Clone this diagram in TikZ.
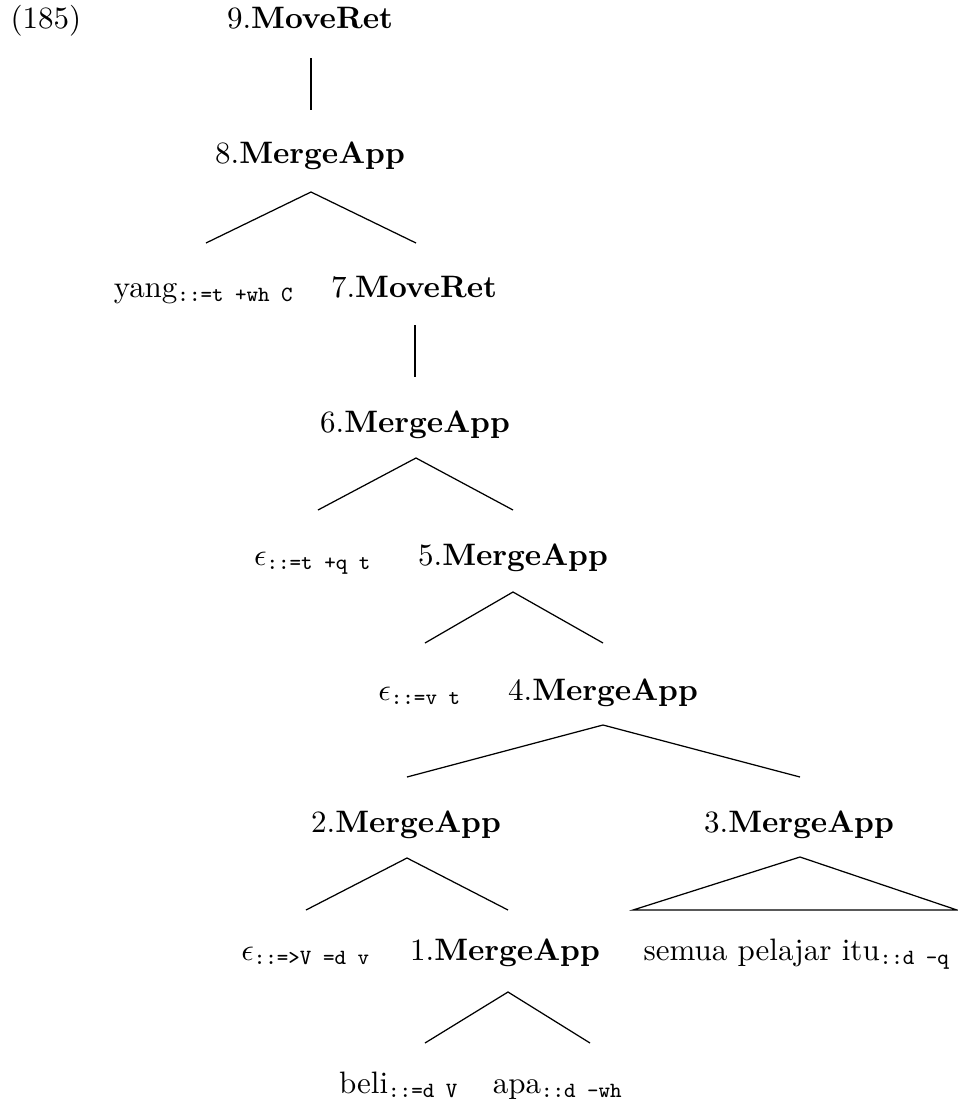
\documentclass[tikz,border=0pt]{standalone}
\usepackage{amsmath}
\usetikzlibrary{calc}
\newcommand{\ftr}[1]{$_{\texttt{#1}}$}
\begin{document}
\begin{tikzpicture}[
  x=0.3226pt, y=-0.3226pt,
  every node/.style={inner sep=0pt, anchor=base},
  edge/.style={draw, line width=0.4pt}
]
\useasboundingbox (0,0) rectangle (957,1109);
% labels, by level
\node[anchor=base west] (ex) at (10,28) {(185)};
\node (n9) at (310,28) {9.\textbf{MoveRet}};
\node (n8) at (310,163) {8.\textbf{MergeApp}};
\node (yang) at (204,297) {yang\ftr{::=t +wh C}};
\node (n7) at (414,297) {7.\textbf{MoveRet}};
\node (n6) at (415,432) {6.\textbf{MergeApp}};
\node (eps1) at (313,565) {$\epsilon$\ftr{::=t +q t}};
\node (n5) at (513,565) {5.\textbf{MergeApp}};
\node (eps2) at (420,700) {$\epsilon$\ftr{::=v t}};
\node (n4) at (603,700) {4.\textbf{MergeApp}};
\node (n2) at (406,832) {2.\textbf{MergeApp}};
\node (n3) at (799,832) {3.\textbf{MergeApp}};
\node (eps3) at (306,960) {$\epsilon$\ftr{::=>V =d v}};
\node (n1) at (505,960) {1.\textbf{MergeApp}};
\node (semua) at (797,960) {semua pelajar itu\ftr{::d -q}};
\node (beli) at (399,1093) {beli\ftr{::=d V}};
\node (apa) at (558,1093) {apa\ftr{::d -wh}};
% branch ends
\coordinate (e9) at (311,110);
\coordinate (e8l) at (206,243);  \coordinate (e8r) at (416,243);
\coordinate (e7) at (415,377);
\coordinate (e6l) at (318,510);  \coordinate (e6r) at (513,510);
\coordinate (e5l) at (425,643);  \coordinate (e5r) at (603,643);
\coordinate (e4l) at (407,777);  \coordinate (e4r) at (800,777);
\coordinate (e2l) at (306,910);  \coordinate (e2r) at (508,910);
\coordinate (e3l) at (633,910);  \coordinate (e3r) at (957,910);
\coordinate (e1l) at (425,1043); \coordinate (e1r) at (590,1043);
% branches
\draw[edge] (n9.base) ++(1,30) -- (e9);
\draw[edge] (e8l) -- ($(n8.base)+(1,29)$) -- (e8r);
\draw[edge] (n7.base) ++(1,28) -- (e7);
\draw[edge] (e6l) -- ($(n6.base)+(1,26)$) -- (e6r);
\draw[edge] (e5l) -- ($(n5.base)+(0,27)$) -- (e5r);
\draw[edge] (e4l) -- ($(n4.base)+(0,25)$) -- (e4r);
\draw[edge] (e2l) -- ($(n2.base)+(1,26)$) -- (e2r);
\draw[edge] (e3l) -- ($(n3.base)+(1,25)$) -- (e3r) -- cycle;
\draw[edge] (e1l) -- ($(n1.base)+(3,32)$) -- (e1r);
\end{tikzpicture}
\end{document}
